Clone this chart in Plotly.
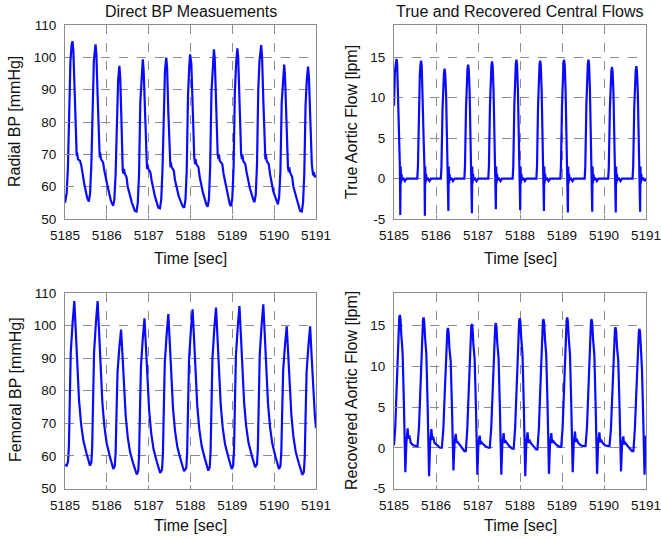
import plotly.graph_objects as go

# ---------------- data ----------------
x_ticks = [5185, 5186, 5187, 5188, 5189, 5190, 5191]
bp_ticks = [50, 60, 70, 80, 90, 100, 110]
flow_ticks = [-5, 0, 5, 10, 15]

radial_bp = [
    (5185.00, 55.0), (5185.04, 58), (5185.07, 66), (5185.10, 88), (5185.13, 99), (5185.16, 104), (5185.18, 105),
    (5185.20, 102), (5185.23, 90), (5185.26, 74), (5185.28, 69.5), (5185.29, 70.5), (5185.31, 68.5), (5185.36, 68),
    (5185.39, 66.5), (5185.46, 61), (5185.53, 56.5), (5185.57, 55.4),
    (5185.60, 58), (5185.63, 67), (5185.66, 88), (5185.69, 99), (5185.73, 104), (5185.75, 101), (5185.78, 88),
    (5185.81, 72), (5185.83, 69), (5185.84, 70.5), (5185.86, 68.5), (5185.91, 67.5), (5185.94, 65), (5186.02, 60),
    (5186.10, 55.5), (5186.15, 54.1),
    (5186.18, 56), (5186.21, 64), (5186.24, 84), (5186.27, 93), (5186.30, 97.4), (5186.32, 94), (5186.35, 80),
    (5186.38, 65), (5186.40, 64), (5186.41, 65.5), (5186.43, 64), (5186.47, 63), (5186.50, 60), (5186.60, 55),
    (5186.67, 52.5), (5186.71, 52.3),
    (5186.74, 55), (5186.77, 64), (5186.80, 86), (5186.83, 95), (5186.86, 99.4), (5186.88, 96), (5186.91, 82),
    (5186.94, 67), (5186.96, 65.5), (5186.97, 67), (5186.99, 65.5), (5187.04, 64.5), (5187.07, 62), (5187.15, 57),
    (5187.23, 53.5), (5187.27, 53.3),
    (5187.30, 56), (5187.33, 65), (5187.36, 87), (5187.39, 96), (5187.42, 99.9), (5187.44, 97), (5187.47, 83),
    (5187.50, 67.5), (5187.52, 66), (5187.53, 67.5), (5187.55, 66), (5187.60, 65), (5187.63, 62), (5187.72, 57),
    (5187.81, 54), (5187.85, 53.5),
    (5187.88, 56), (5187.91, 65), (5187.94, 88), (5187.97, 97), (5187.99, 100.9), (5188.02, 98), (5188.05, 84),
    (5188.09, 69), (5188.11, 67), (5188.12, 68.5), (5188.14, 67), (5188.19, 66), (5188.22, 63), (5188.30, 58),
    (5188.38, 54.5), (5188.41, 53.8),
    (5188.44, 56), (5188.47, 66), (5188.50, 89), (5188.53, 98), (5188.56, 102.5), (5188.58, 99.5), (5188.61, 86),
    (5188.65, 70), (5188.67, 68.5), (5188.68, 70), (5188.70, 68), (5188.76, 67), (5188.79, 64), (5188.87, 58.5),
    (5188.94, 54.5), (5188.97, 54.0),
    (5189.00, 56.5), (5189.03, 66), (5189.06, 89), (5189.09, 98), (5189.12, 102.8), (5189.14, 100), (5189.17, 86),
    (5189.21, 70), (5189.23, 68.5), (5189.24, 70), (5189.26, 68), (5189.31, 67), (5189.34, 64.5), (5189.42, 59.5),
    (5189.50, 56), (5189.53, 55.2),
    (5189.56, 57.5), (5189.59, 67), (5189.62, 90), (5189.65, 99), (5189.69, 103.8), (5189.71, 100.5), (5189.74, 87),
    (5189.77, 71), (5189.79, 68.5), (5189.80, 70), (5189.82, 68), (5189.87, 67), (5189.90, 64), (5189.98, 58.5),
    (5190.06, 55), (5190.09, 54.5),
    (5190.12, 57), (5190.15, 65), (5190.18, 86), (5190.21, 94), (5190.24, 97.8), (5190.26, 94), (5190.29, 80),
    (5190.33, 66), (5190.35, 64.5), (5190.36, 66), (5190.38, 64.5), (5190.43, 63), (5190.46, 60), (5190.55, 55.5),
    (5190.62, 52.5), (5190.66, 52.3),
    (5190.69, 55), (5190.72, 64), (5190.75, 85), (5190.78, 93), (5190.81, 97.1), (5190.83, 94), (5190.86, 80),
    (5190.90, 67), (5190.93, 63.5), (5190.95, 64.5), (5190.97, 63), (5191.00, 63.5),
]

true_flow = [
    (5185.000, 9.0), (5185.020, 13.0), (5185.045, 14.3), (5185.060, 14.8), (5185.075, 14.2), (5185.095, 11.0),
    (5185.120, 5.0), (5185.140, 1.5), (5185.150, -4.5), (5185.158, 1.5), (5185.167, -0.6), (5185.178, 0.6),
    (5185.190, -0.2), (5185.220, 0.1), (5185.260, -0.3), (5185.300, 0.0),
    (5185.555, 0.0), (5185.570, 1.5), (5185.595, 9.0), (5185.615, 12.9), (5185.630, 14.1), (5185.645, 14.6),
    (5185.660, 14.0), (5185.680, 11.0), (5185.705, 5.0), (5185.725, 1.5), (5185.735, -4.6), (5185.743, 1.5),
    (5185.752, -0.6), (5185.763, 0.6), (5185.775, -0.2), (5185.805, 0.1), (5185.845, -0.3), (5185.885, 0.0),
    (5186.115, 0.0), (5186.130, 1.5), (5186.155, 8.5), (5186.175, 12.0), (5186.190, 13.1), (5186.205, 13.6),
    (5186.220, 13.0), (5186.240, 10.5), (5186.265, 4.8), (5186.285, 1.5), (5186.295, -4.0), (5186.303, 1.5),
    (5186.312, -0.6), (5186.323, 0.6), (5186.335, -0.2), (5186.365, 0.1), (5186.405, -0.3), (5186.445, 0.0),
    (5186.675, 0.0), (5186.690, 1.5), (5186.715, 8.8), (5186.735, 12.4), (5186.750, 13.6), (5186.765, 14.1),
    (5186.780, 13.5), (5186.800, 10.8), (5186.825, 4.9), (5186.845, 1.5), (5186.855, -4.3), (5186.863, 1.5),
    (5186.872, -0.6), (5186.883, 0.6), (5186.895, -0.2), (5186.925, 0.1), (5186.965, -0.3), (5187.005, 0.0),
    (5187.245, 0.0), (5187.260, 1.5), (5187.285, 9.0), (5187.305, 12.8), (5187.320, 14.0), (5187.335, 14.5),
    (5187.350, 13.9), (5187.370, 11.0), (5187.395, 5.0), (5187.415, 1.5), (5187.425, -3.8), (5187.433, 1.5),
    (5187.442, -0.6), (5187.453, 0.6), (5187.465, -0.2), (5187.495, 0.1), (5187.535, -0.3), (5187.575, 0.0),
    (5187.825, 0.0), (5187.840, 1.5), (5187.865, 9.0), (5187.885, 13.0), (5187.900, 14.2), (5187.915, 14.7),
    (5187.930, 14.1), (5187.950, 11.0), (5187.975, 5.0), (5187.995, 1.5), (5188.005, -3.9), (5188.013, 1.5),
    (5188.022, -0.6), (5188.033, 0.6), (5188.045, -0.2), (5188.075, 0.1), (5188.115, -0.3), (5188.155, 0.0),
    (5188.390, 0.0), (5188.405, 1.5), (5188.430, 9.0), (5188.450, 12.9), (5188.465, 14.1), (5188.480, 14.6),
    (5188.495, 14.0), (5188.515, 11.0), (5188.540, 5.0), (5188.560, 1.5), (5188.570, -4.0), (5188.578, 1.5),
    (5188.587, -0.6), (5188.598, 0.6), (5188.610, -0.2), (5188.640, 0.1), (5188.680, -0.3), (5188.720, 0.0),
    (5188.960, 0.0), (5188.975, 1.5), (5189.000, 9.0), (5189.020, 13.0), (5189.035, 14.2), (5189.050, 14.7),
    (5189.065, 14.1), (5189.085, 11.0), (5189.110, 5.0), (5189.130, 1.5), (5189.140, -4.2), (5189.148, 1.5),
    (5189.157, -0.6), (5189.168, 0.6), (5189.180, -0.2), (5189.210, 0.1), (5189.250, -0.3), (5189.290, 0.0),
    (5189.540, 0.0), (5189.555, 1.5), (5189.580, 9.0), (5189.600, 13.0), (5189.615, 14.2), (5189.630, 14.7),
    (5189.645, 14.1), (5189.665, 11.0), (5189.690, 5.0), (5189.710, 1.5), (5189.720, -4.1), (5189.728, 1.5),
    (5189.737, -0.6), (5189.748, 0.6), (5189.760, -0.2), (5189.790, 0.1), (5189.830, -0.3), (5189.870, 0.0),
    (5190.100, 0.0), (5190.115, 1.5), (5190.140, 8.6), (5190.160, 12.2), (5190.175, 13.3), (5190.190, 13.8),
    (5190.205, 13.2), (5190.225, 10.6), (5190.250, 4.8), (5190.270, 1.5), (5190.280, -4.2), (5190.288, 1.5),
    (5190.297, -0.6), (5190.308, 0.6), (5190.320, -0.2), (5190.350, 0.1), (5190.390, -0.3), (5190.430, 0.0),
    (5190.680, 0.0), (5190.695, 1.5), (5190.720, 8.7), (5190.740, 12.3), (5190.755, 13.4), (5190.770, 13.9),
    (5190.785, 13.3), (5190.805, 10.7), (5190.830, 4.8), (5190.850, 1.5), (5190.860, -4.1), (5190.868, 1.5),
    (5190.877, -0.6), (5190.888, 0.6), (5190.900, -0.2), (5190.930, 0.1), (5190.970, -0.3), (5191.000, 0.0),
]

femoral_bp = [
    (5185.000, 57.3), (5185.040, 57.0), (5185.073, 58.3), (5185.093, 63.0), (5185.113, 76.1), (5185.138, 91.9),
    (5185.183, 101.1), (5185.223, 107.5), (5185.263, 96.9), (5185.295, 86.6), (5185.335, 77.2), (5185.383, 70.0),
    (5185.439, 64.7), (5185.518, 60.6), (5185.598, 57.0),
    (5185.630, 58.0), (5185.650, 62.8), (5185.670, 75.9), (5185.695, 91.8), (5185.740, 101.1), (5185.780, 107.5),
    (5185.820, 96.7), (5185.852, 86.2), (5185.892, 76.6), (5185.940, 69.2), (5185.996, 63.9), (5186.075, 59.7),
    (5186.155, 56.0),
    (5186.190, 56.9), (5186.210, 60.9), (5186.230, 72.1), (5186.255, 85.5), (5186.300, 93.4), (5186.340, 98.8),
    (5186.380, 89.5), (5186.412, 80.4), (5186.452, 72.1), (5186.500, 65.7), (5186.556, 61.1), (5186.635, 57.5),
    (5186.715, 54.3),
    (5186.750, 55.3), (5186.770, 59.8), (5186.790, 72.3), (5186.815, 87.3), (5186.860, 96.1), (5186.900, 102.2),
    (5186.940, 92.2), (5186.972, 82.6), (5187.012, 73.8), (5187.060, 67.0), (5187.116, 62.1), (5187.195, 58.2),
    (5187.275, 54.8),
    (5187.320, 55.8), (5187.340, 60.4), (5187.360, 73.1), (5187.385, 88.4), (5187.430, 97.3), (5187.470, 103.5),
    (5187.510, 93.4), (5187.542, 83.5), (5187.582, 74.6), (5187.630, 67.7), (5187.686, 62.7), (5187.765, 58.8),
    (5187.845, 55.3),
    (5187.900, 56.3), (5187.920, 61.0), (5187.940, 73.9), (5187.965, 89.6), (5188.010, 98.7), (5188.050, 105.0),
    (5188.090, 94.6), (5188.122, 84.5), (5188.162, 75.3), (5188.210, 68.2), (5188.266, 63.1), (5188.345, 59.1),
    (5188.425, 55.5),
    (5188.460, 56.5), (5188.480, 61.2), (5188.500, 74.3), (5188.525, 90.0), (5188.570, 99.2), (5188.610, 105.5),
    (5188.650, 95.1), (5188.682, 85.0), (5188.722, 75.8), (5188.770, 68.7), (5188.826, 63.6), (5188.905, 59.6),
    (5188.985, 56.0),
    (5189.020, 57.0), (5189.040, 61.7), (5189.060, 74.8), (5189.085, 90.5), (5189.130, 99.7), (5189.170, 106.0),
    (5189.210, 95.6), (5189.242, 85.5), (5189.282, 76.3), (5189.330, 69.2), (5189.386, 64.1), (5189.465, 60.1),
    (5189.545, 56.5),
    (5189.590, 57.5), (5189.610, 62.2), (5189.630, 75.3), (5189.655, 91.0), (5189.700, 100.2), (5189.740, 106.5),
    (5189.780, 95.9), (5189.812, 85.6), (5189.852, 76.2), (5189.900, 69.0), (5189.956, 63.7), (5190.035, 59.6),
    (5190.115, 56.0),
    (5190.150, 56.9), (5190.170, 61.0), (5190.190, 72.4), (5190.215, 86.2), (5190.260, 94.2), (5190.300, 99.8),
    (5190.340, 90.2), (5190.372, 80.9), (5190.412, 72.4), (5190.460, 65.9), (5190.516, 61.2), (5190.595, 57.5),
    (5190.675, 54.2),
    (5190.710, 55.1), (5190.730, 59.4), (5190.750, 71.3), (5190.775, 85.7), (5190.820, 94.0), (5190.860, 99.8),
    (5190.900, 89.5), (5190.932, 80.5), (5190.972, 72.5), (5191.000, 68.5),
]

recovered_flow = [
    (5185.000, 0.3), (5185.030, 2.5), (5185.065, 7.6), (5185.100, 14.0), (5185.125, 16.0), (5185.140, 16.3),
    (5185.155, 15.8), (5185.175, 13.8), (5185.205, 11.7), (5185.235, 5.6), (5185.255, 0.3), (5185.270, -3.0),
    (5185.295, 0.6), (5185.325, 2.4), (5185.345, 1.1), (5185.365, 1.5), (5185.400, 0.6), (5185.460, 0.3),
    (5185.530, 0.2),
    (5185.560, 0.2), (5185.595, 2.5), (5185.630, 7.5), (5185.665, 13.7), (5185.690, 15.7), (5185.705, 16.0),
    (5185.720, 15.5), (5185.740, 13.5), (5185.770, 11.5), (5185.800, 5.4), (5185.820, 0.3), (5185.835, -3.5),
    (5185.860, 0.6), (5185.890, 2.3), (5185.910, 1.0), (5185.930, 1.4), (5185.965, 0.6), (5186.025, 0.3),
    (5186.095, 0.0),
    (5186.140, 0.0), (5186.175, 2.3), (5186.210, 6.9), (5186.245, 12.4), (5186.270, 14.4), (5186.285, 14.7),
    (5186.300, 14.2), (5186.320, 12.2), (5186.350, 10.6), (5186.380, 5.0), (5186.400, 0.3), (5186.415, -2.8),
    (5186.440, 0.5), (5186.470, 1.7), (5186.490, 0.6), (5186.510, 0.8), (5186.545, 0.5), (5186.605, 0.1),
    (5186.675, -0.4),
    (5186.710, -0.4), (5186.745, 2.3), (5186.780, 7.1), (5186.815, 12.9), (5186.840, 14.9), (5186.855, 15.2),
    (5186.870, 14.7), (5186.890, 12.7), (5186.920, 10.9), (5186.950, 5.2), (5186.970, 0.3), (5186.985, -3.3),
    (5187.010, 0.5), (5187.040, 1.5), (5187.060, 0.4), (5187.080, 0.7), (5187.115, 0.5), (5187.175, 0.2),
    (5187.245, 0.0),
    (5187.280, 0.0), (5187.315, 2.4), (5187.350, 7.2), (5187.385, 13.0), (5187.410, 15.0), (5187.425, 15.3),
    (5187.440, 14.8), (5187.460, 12.8), (5187.490, 11.0), (5187.520, 5.2), (5187.540, 0.3), (5187.555, -3.3),
    (5187.580, 0.5), (5187.610, 1.8), (5187.630, 0.6), (5187.650, 0.9), (5187.685, 0.6), (5187.745, 0.2),
    (5187.815, -0.1),
    (5187.850, -0.1), (5187.885, 2.5), (5187.920, 7.5), (5187.955, 13.6), (5187.980, 15.6), (5187.995, 15.9),
    (5188.010, 15.4), (5188.030, 13.4), (5188.060, 11.4), (5188.090, 5.4), (5188.110, 0.3), (5188.125, -3.5),
    (5188.150, 0.5), (5188.180, 1.9), (5188.200, 0.6), (5188.220, 1.0), (5188.255, 0.6), (5188.315, 0.2),
    (5188.385, -0.2),
    (5188.415, -0.2), (5188.450, 2.4), (5188.485, 7.4), (5188.520, 13.5), (5188.545, 15.5), (5188.560, 15.8),
    (5188.575, 15.3), (5188.595, 13.3), (5188.625, 11.4), (5188.655, 5.4), (5188.675, 0.3), (5188.690, -3.2),
    (5188.715, 0.5), (5188.745, 1.8), (5188.765, 0.6), (5188.785, 0.9), (5188.820, 0.6), (5188.880, 0.3),
    (5188.950, 0.1),
    (5188.980, 0.1), (5189.015, 2.5), (5189.050, 7.5), (5189.085, 13.7), (5189.110, 15.7), (5189.125, 16.0),
    (5189.140, 15.5), (5189.160, 13.5), (5189.190, 11.5), (5189.220, 5.4), (5189.240, 0.3), (5189.255, -3.0),
    (5189.280, 0.6), (5189.310, 2.0), (5189.330, 0.7), (5189.350, 1.1), (5189.385, 0.6), (5189.445, 0.3),
    (5189.515, 0.2),
    (5189.560, 0.2), (5189.595, 2.5), (5189.630, 7.4), (5189.665, 13.5), (5189.690, 15.5), (5189.705, 15.8),
    (5189.720, 15.3), (5189.740, 13.3), (5189.770, 11.4), (5189.800, 5.4), (5189.820, 0.3), (5189.835, -3.2),
    (5189.860, 0.6), (5189.890, 1.9), (5189.910, 0.7), (5189.930, 1.0), (5189.965, 0.6), (5190.025, 0.3),
    (5190.095, 0.2),
    (5190.130, 0.2), (5190.165, 2.3), (5190.200, 6.9), (5190.235, 12.5), (5190.260, 14.5), (5190.275, 14.8),
    (5190.290, 14.3), (5190.310, 12.3), (5190.340, 10.7), (5190.370, 5.0), (5190.390, 0.3), (5190.405, -2.9),
    (5190.430, 0.5), (5190.460, 1.4), (5190.480, 0.4), (5190.500, 0.7), (5190.535, 0.4), (5190.595, 0.0),
    (5190.665, -0.4),
    (5190.700, -0.4), (5190.735, 2.3), (5190.770, 6.8), (5190.805, 12.3), (5190.830, 14.3), (5190.845, 14.6),
    (5190.860, 14.1), (5190.880, 12.1), (5190.905, 9.5), (5190.930, 4.5), (5190.950, 0.3), (5190.965, -3.3),
    (5191.000, 1.5),
]

# ---------------- figure ----------------
W, H = 661, 540
FONT = "Liberation Sans, Arial, Helvetica, sans-serif"
LINE = dict(color="#0a0aff", width=2.2)


def px_x(p):
    return p / W


def px_y(p):
    return 1 - p / H


fig = go.Figure()
panels = [
    (radial_bp, "x", "y"),
    (true_flow, "x2", "y2"),
    (femoral_bp, "x3", "y3"),
    (recovered_flow, "x4", "y4"),
]
for data, xa, ya in panels:
    fig.add_trace(go.Scatter(
        x=[p[0] for p in data], y=[p[1] for p in data],
        mode="lines", line=LINE, xaxis=xa, yaxis=ya, showlegend=False,
        hoverinfo="skip",
    ))

left_dom = [px_x(65), px_x(316)]
right_dom = [px_x(394), px_x(646)]
top_dom = [px_y(219), px_y(25)]
bot_dom = [px_y(488.5), px_y(293)]

common = dict(
    showline=True, mirror=True, linecolor="#8c8c8c", linewidth=1,
    showgrid=True, gridcolor="#8c8c8c", griddash="dash", gridwidth=1,
    ticks="inside", ticklen=4, tickcolor="#8c8c8c",
    tickfont=dict(family=FONT, size=13.5, color="#111111"),
    zeroline=False, automargin=False, fixedrange=True,
    ticklabeloverflow="allow",
)


def xax(dom, anchor):
    return dict(domain=dom, anchor=anchor, range=[5185, 5191], tickvals=x_ticks,
                ticktext=[str(v) for v in x_ticks], ticklabelstandoff=4, **common)


def yax(dom, anchor, rng, ticks):
    return dict(domain=dom, anchor=anchor, range=rng, tickvals=ticks,
                ticktext=[str(v) for v in ticks], ticklabelstandoff=5, **common)


fig.update_layout(
    template="none",
    width=W, height=H,
    margin=dict(l=0, r=0, t=0, b=0, pad=0, autoexpand=False),
    paper_bgcolor="white", plot_bgcolor="white",
    xaxis=xax(left_dom, "y"),
    yaxis=yax(top_dom, "x", [50, 110], bp_ticks),
    xaxis2=xax(right_dom, "y2"),
    yaxis2=yax(top_dom, "x2", [-5, 19], flow_ticks),
    xaxis3=xax(left_dom, "y3"),
    yaxis3=yax(bot_dom, "x3", [50, 110], bp_ticks),
    xaxis4=xax(right_dom, "y4"),
    yaxis4=yax(bot_dom, "x4", [-5, 19], flow_ticks),
)

TXT = dict(family=FONT, size=16, color="#111111")
labels = [
    ("Direct BP Measuements", 190.5, 11.5, 0),
    ("True and Recovered Central Flows", 520, 11.5, 0),
    ("Time [sec]", 190.5, 258, 0),
    ("Time [sec]", 520, 258, 0),
    ("Time [sec]", 190.5, 525, 0),
    ("Time [sec]", 520, 525, 0),
    ("Radial BP [mmHg]", 15, 122, -90),
    ("True Aortic Flow [lpm]", 352, 122, -90),
    ("Femoral BP [mmHg]", 15, 390, -90),
    ("Recovered Aortic Flow [lpm]", 351, 391, -90),
]
for text, x, y, ang in labels:
    fig.add_annotation(text=text, x=px_x(x), y=px_y(y), xref="paper", yref="paper",
                       showarrow=False, textangle=ang, font=TXT,
                       xanchor="center", yanchor="middle")

fig.write_html(
    "out.html",
    config={"displayModeBar": False},
    post_script="document.body.style.margin='0px';document.body.style.overflow='hidden';",
)
